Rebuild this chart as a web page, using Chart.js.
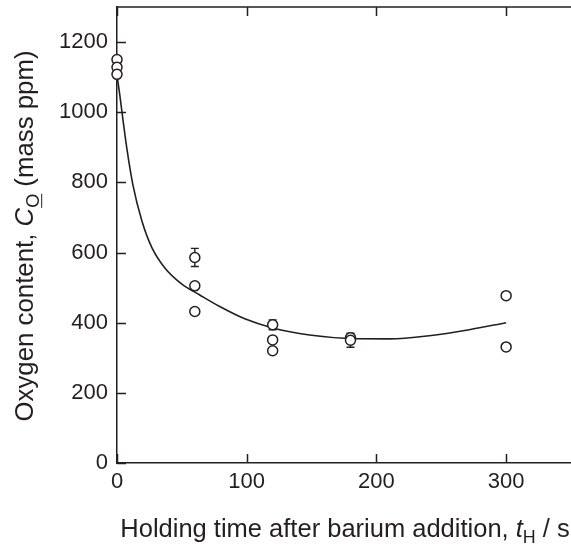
<!DOCTYPE html>
<html>
<head>
<meta charset="utf-8">
<script src="https://cdn.jsdelivr.net/npm/chart.js@4.4.1/dist/chart.umd.min.js"></script>
<style>
  html, body { margin: 0; padding: 0; background: #fff; }
  canvas { display: block; }
</style>
</head>
<body>
<canvas id="c" width="571" height="548"></canvas>
<script>
// ---- Data ----
const sampleTimes = [0, 0, 0, 60, 60, 60, 120, 120, 120, 180, 180, 300, 300];
const sampleOxygen = [1150, 1128, 1108, 586, 505, 432, 394, 351, 320, 357, 350, 477, 331];
const sampleError = [0, 0, 0, 26, 0, 0, 14, 0, 0, 0, 20, 0, 0];

const fitTimes = [0, 2.3, 4.6, 7.7, 12.3, 19.2, 26.9, 36.9, 50, 63.8, 79.2, 98.5, 120, 148.5, 180, 210, 240.8, 271.5, 300];
const fitOxygen = [1106, 1045, 978, 894, 792, 690, 614, 556, 510, 479, 446, 411, 385, 365, 355, 354, 363, 380, 400];

const xTickValues = [0, 100, 200, 300];
const yTickValues = [0, 200, 400, 600, 800, 1000, 1200];

const INK = '#231f20';
const FONT = "'Liberation Sans', Arial, Helvetica, sans-serif";

const samplePoints = sampleTimes.map((t, i) => ({ x: t, y: sampleOxygen[i] }));
const fitPoints = fitTimes.map((t, i) => ({ x: t, y: fitOxygen[i] }));

function drawRuns(ctx, runs, size, cx, baseline) {
  const parts = runs.map(r => {
    const s = r.sub ? size * 0.7 : size;
    const f = (r.italic ? 'italic ' : '') + s + 'px ' + FONT;
    ctx.font = f;
    return { r, f, s, w: ctx.measureText(r.text).width };
  });
  const total = parts.reduce((a, p) => a + p.w, 0);
  let x = cx - total / 2;
  ctx.fillStyle = INK;
  ctx.strokeStyle = INK;
  ctx.textBaseline = 'alphabetic';
  ctx.textAlign = 'left';
  for (const p of parts) {
    ctx.font = p.f;
    const dy = p.r.sub ? size * 0.22 : 0;
    ctx.fillText(p.r.text, x, baseline + dy);
    if (p.r.underline) {
      ctx.lineWidth = 1;
      ctx.beginPath();
      ctx.moveTo(x, baseline + dy + 3);
      ctx.lineTo(x + p.w, baseline + dy + 3);
      ctx.stroke();
    }
    x += p.w;
  }
}

const decor = {
  id: 'decor',
  beforeDatasetsDraw(chart) {
    const ctx = chart.ctx, xs = chart.scales.x, ys = chart.scales.y;
    ctx.save();
    ctx.strokeStyle = INK;
    ctx.lineWidth = 1.4;
    sampleTimes.forEach((t, i) => {
      const e = sampleError[i];
      if (!e) return;
      const px = xs.getPixelForValue(t);
      const top = ys.getPixelForValue(sampleOxygen[i] + e);
      const bot = ys.getPixelForValue(sampleOxygen[i] - e);
      ctx.beginPath();
      ctx.moveTo(px, top); ctx.lineTo(px, bot);
      ctx.moveTo(px - 4, top); ctx.lineTo(px + 4, top);
      ctx.moveTo(px - 4, bot); ctx.lineTo(px + 4, bot);
      ctx.stroke();
    });
    ctx.restore();
  },
  afterDraw(chart) {
    const ctx = chart.ctx, xs = chart.scales.x, ys = chart.scales.y;
    const a = chart.chartArea;
    const L = 9;
    ctx.save();
    ctx.strokeStyle = INK;
    ctx.lineWidth = 1.5;
    ctx.beginPath();
    ctx.moveTo(a.left, a.top); ctx.lineTo(a.right, a.top);
    yTickValues.forEach(v => {
      const py = Math.round(ys.getPixelForValue(v)) + 0.5;
      ctx.moveTo(a.left, py); ctx.lineTo(a.left + L, py);
    });
    xTickValues.forEach(v => {
      const px = Math.round(xs.getPixelForValue(v)) + 0.5;
      ctx.moveTo(px, a.bottom); ctx.lineTo(px, a.bottom - L);
      ctx.moveTo(px, a.top); ctx.lineTo(px, a.top + L);
    });
    ctx.stroke();

    drawRuns(ctx, [
      { text: 'Holding time after barium addition, ' },
      { text: 't', italic: true },
      { text: 'H', sub: true },
      { text: ' / s' }
    ], 25.5, 345, 537);

    ctx.translate(33, 236);
    ctx.rotate(-Math.PI / 2);
    drawRuns(ctx, [
      { text: 'Oxygen content, ' },
      { text: 'C', italic: true },
      { text: 'O', sub: true, underline: true },
      { text: ' (mass ppm)' }
    ], 25.8, 0, 0);
    ctx.restore();
  }
};

const plainTick = v => String(v);

new Chart(document.getElementById('c'), {
  type: 'scatter',
  data: {
    datasets: [
      {
        data: samplePoints,
        pointStyle: 'circle',
        pointRadius: 5,
        pointBorderWidth: 1.5,
        borderColor: INK,
        backgroundColor: '#fff',
        pointBackgroundColor: '#fff',
        pointBorderColor: INK,
        clip: false
      },
      {
        type: 'line',
        data: fitPoints,
        borderColor: INK,
        borderWidth: 1.6,
        pointRadius: 0,
        fill: false,
        cubicInterpolationMode: 'monotone'
      }
    ]
  },
  options: {
    responsive: false,
    animation: false,
    devicePixelRatio: 1,
    layout: { autoPadding: false, padding: { top: 7, right: 0, left: 0, bottom: 0 } },
    plugins: { legend: { display: false }, tooltip: { enabled: false } },
    scales: {
      x: {
        type: 'linear', min: 0, max: 350,
        afterBuildTicks: s => { s.ticks = xTickValues.map(v => ({ value: v })); },
        ticks: { font: { size: 22, family: FONT }, color: INK, padding: 6, maxRotation: 0, includeBounds: false, callback: plainTick },
        grid: { display: false, drawTicks: false },
        border: { display: true, color: INK, width: 1.5 },
        afterFit: s => { s.height = 85; s.paddingLeft = 0; s.paddingRight = 0; }
      },
      y: {
        type: 'linear', min: 0, max: 1300,
        afterBuildTicks: s => { s.ticks = yTickValues.map(v => ({ value: v })); },
        ticks: { font: { size: 22, family: FONT }, color: INK, padding: 9, includeBounds: false, callback: plainTick },
        grid: { display: false, drawTicks: false },
        border: { display: true, color: INK, width: 1.5 },
        afterFit: s => { s.width = 117; s.paddingTop = 0; s.paddingBottom = 0; }
      }
    }
  },
  plugins: [decor]
});
</script>
</body>
</html>
